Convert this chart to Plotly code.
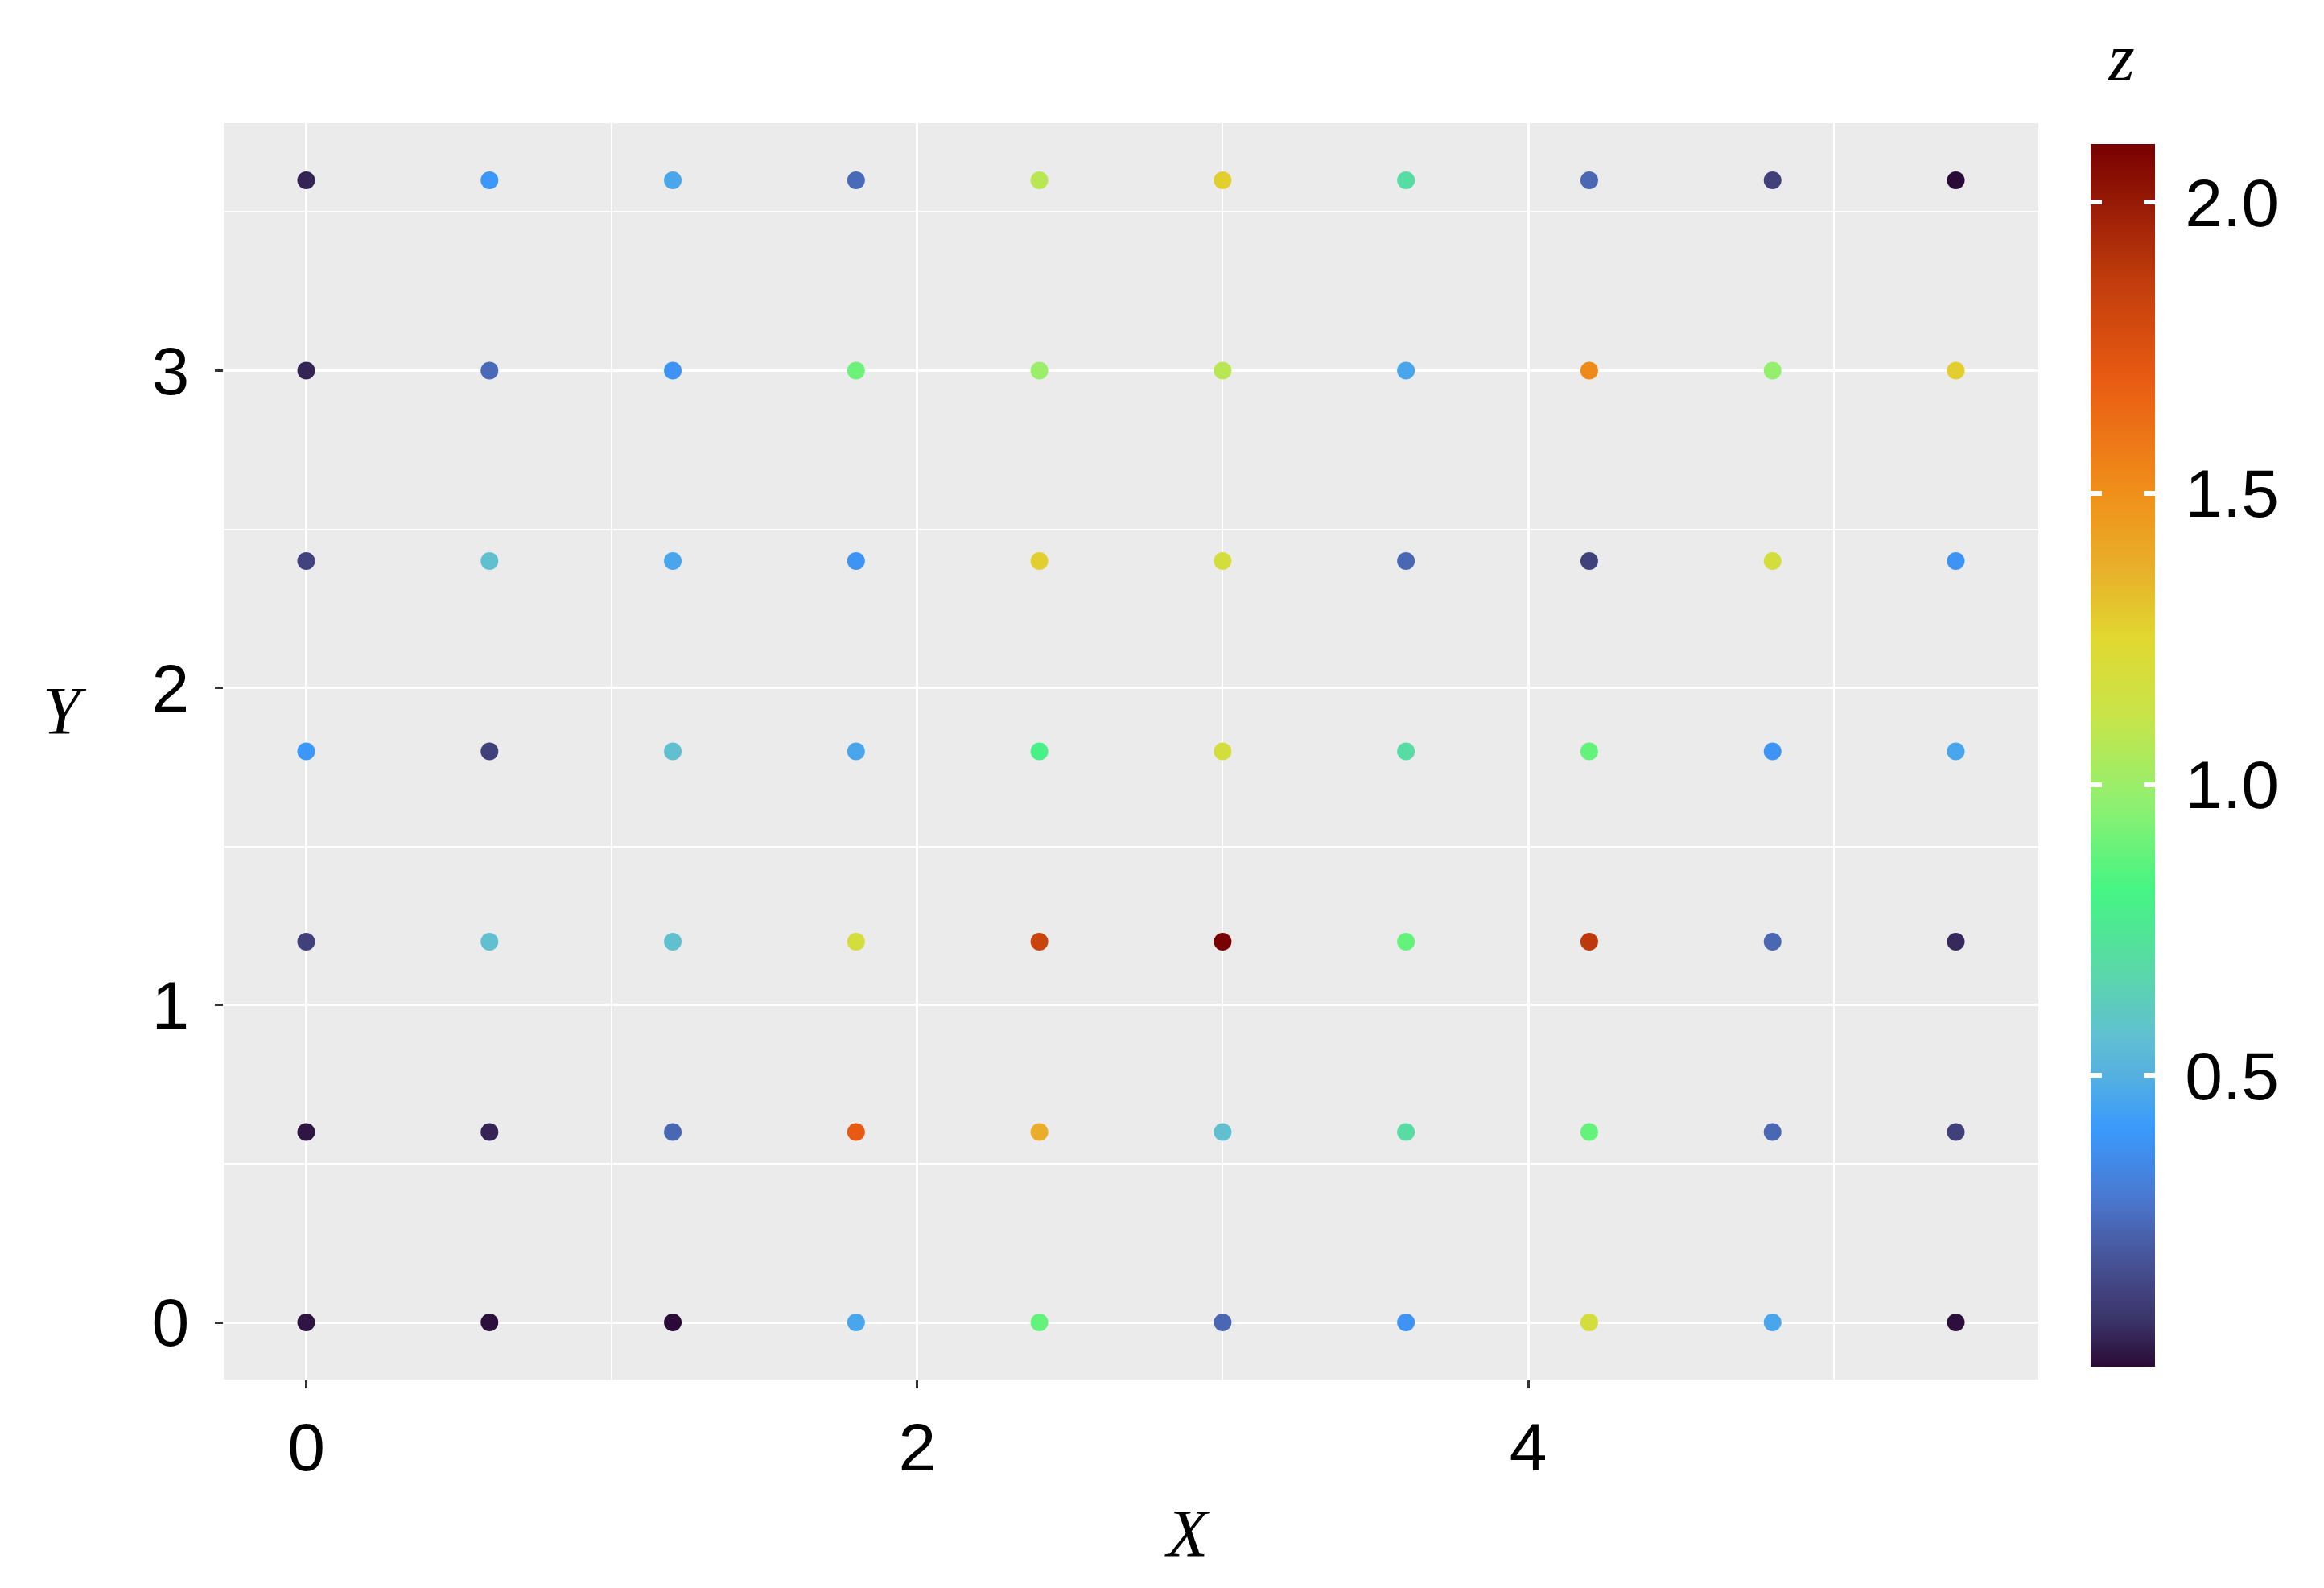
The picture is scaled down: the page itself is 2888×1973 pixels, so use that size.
import plotly.graph_objects as go

# grid coordinates
x_levels = [0.0, 0.6, 1.2, 1.8, 2.4, 3.0, 3.6, 4.2, 4.8, 5.4]
y_levels = [0.0, 0.6, 1.2, 1.8, 2.4, 3.0, 3.6]

# z values per row (y from 0 to 3.6), columns follow x_levels
z_y00 = [0.02, 0.01, 0.00, 0.46, 0.88, 0.24, 0.39, 1.18, 0.46, 0.01]
z_y06 = [0.02, 0.05, 0.24, 1.70, 1.38, 0.57, 0.70, 0.88, 0.24, 0.12]
z_y12 = [0.12, 0.57, 0.57, 1.18, 1.83, 2.10, 0.88, 1.88, 0.24, 0.06]
z_y18 = [0.40, 0.12, 0.57, 0.46, 0.80, 1.18, 0.70, 0.88, 0.39, 0.46]
z_y24 = [0.13, 0.57, 0.46, 0.39, 1.28, 1.18, 0.24, 0.12, 1.18, 0.39]
z_y30 = [0.05, 0.25, 0.39, 0.90, 1.00, 1.08, 0.46, 1.52, 0.98, 1.28]
z_y36 = [0.05, 0.40, 0.46, 0.25, 1.08, 1.28, 0.70, 0.24, 0.12, 0.00]

z_rows = [z_y00, z_y06, z_y12, z_y18, z_y24, z_y30, z_y36]

x_ticks = [0, 2, 4]
y_ticks = [0, 1, 2, 3]
x_minor = [1, 3, 5]
y_minor = [0.5, 1.5, 2.5, 3.5]
cbar_ticks = [0.5, 1.0, 1.5, 2.0]
cbar_ticklabels = ["0.5", "1.0", "1.5", "2.0"]

z_min, z_max = 0.0, 2.1

colorscale = [
    [0.000, "#2a0a36"],
    [0.038, "#3a3468"],
    [0.071, "#444888"],
    [0.105, "#4860a8"],
    [0.138, "#4a78d0"],
    [0.195, "#3a9afc"],
    [0.238, "#55b0e0"],
    [0.271, "#60c0d0"],
    [0.324, "#5ad8a8"],
    [0.390, "#45f583"],
    [0.462, "#90f070"],
    [0.533, "#c8e448"],
    [0.595, "#e0d830"],
    [0.652, "#e8b02a"],
    [0.714, "#f0901a"],
    [0.810, "#e85a12"],
    [0.890, "#c03c0c"],
    [1.000, "#780000"],
]

xs, ys, zs = [], [], []
for yv, row in zip(y_levels, z_rows):
    for xv, zv in zip(x_levels, row):
        xs.append(xv)
        ys.append(yv)
        zs.append(zv)

# page body has an 8px margin; figure coordinates = screen coordinates - OFF
OFF = 8
W, H = 2888, 1973
L, R, T, B = 270, 363, 145, 267
PW, PH = W - L - R, H - T - B

bar_left = 2598
bar_thick = 80
bar_len = 1519
bar_yc = 938.5
mark = 14

tick_font = dict(family="Liberation Sans, Arial, sans-serif", size=84, color="#000000")
title_font = dict(family="Liberation Serif, Times New Roman, serif", size=84, color="#000000")


def px_x(px):
    return (px - OFF - L) / PW


def px_y(py):
    return ((H - B) - (py - OFF)) / PH


def cbar(x_px, thick, **kw):
    d = dict(
        x=px_x(x_px), xanchor="left", xpad=0,
        y=px_y(bar_yc), yanchor="middle", ypad=0,
        lenmode="pixels", len=bar_len,
        thickness=thick, thicknessmode="pixels",
        outlinewidth=0,
    )
    d.update(kw)
    return d


fig = go.Figure()

# main points with labelled colour bar
fig.add_trace(go.Scatter(
    x=xs, y=ys, mode="markers",
    marker=dict(
        color=zs, colorscale=colorscale, cmin=z_min, cmax=z_max, size=22,
        line=dict(width=0), showscale=True,
        colorbar=cbar(bar_left, bar_thick,
                      tickvals=cbar_ticks, ticktext=cbar_ticklabels,
                      ticks="outside", ticklen=21, tickcolor="rgba(0,0,0,0)",
                      tickfont=tick_font),
    ),
    showlegend=False,
    hovertemplate="X=%{x}<br>Y=%{y}<br>z=%{marker.color}<extra></extra>",
))
# white tick marks across the bar
fig.add_trace(go.Scatter(
    x=xs, y=ys, mode="markers", hoverinfo="skip",
    marker=dict(
        color=zs, colorscale=colorscale, cmin=z_min, cmax=z_max, size=22, opacity=0,
        showscale=True,
        colorbar=cbar(bar_left, bar_thick, tickvals=cbar_ticks, ticks="inside",
                      ticklen=bar_thick, tickwidth=6, tickcolor="#ffffff",
                      showticklabels=False),
    ),
    showlegend=False,
))
# narrower bar on top so that only the edge marks remain
fig.add_trace(go.Scatter(
    x=xs, y=ys, mode="markers", hoverinfo="skip",
    marker=dict(
        color=zs, colorscale=colorscale, cmin=z_min, cmax=z_max, size=22, opacity=0,
        showscale=True,
        colorbar=cbar(bar_left + mark, bar_thick - 2 * mark, ticks="",
                      showticklabels=False),
    ),
    showlegend=False,
))

axis_common = dict(
    showgrid=True, gridcolor="#ffffff", gridwidth=2.6,
    zeroline=False, showline=False,
    ticks="outside", ticklen=10, tickwidth=2.5, tickcolor="#333333",
    tickfont=tick_font,
)

fig.update_xaxes(
    **axis_common,
    range=[-0.27, 5.67], tickvals=x_ticks,
    minor=dict(tickvals=x_minor, showgrid=True, gridcolor="#ffffff", gridwidth=1.8, ticks=""),
    ticklabelstandoff=1,
)
fig.update_yaxes(
    **axis_common,
    range=[-0.18, 3.78], tickvals=y_ticks,
    minor=dict(tickvals=y_minor, showgrid=True, gridcolor="#ffffff", gridwidth=1.8, ticks=""),
    ticklabelstandoff=15,
)

fig.update_layout(
    width=W, height=H,
    margin=dict(l=L, r=R, t=T, b=B, autoexpand=False),
    paper_bgcolor="#ffffff", plot_bgcolor="#EBEBEB",
    annotations=[
        dict(text="<i>X</i>", xref="paper", yref="paper",
             x=px_x(1476), y=px_y(1905),
             xanchor="center", yanchor="middle", showarrow=False, font=title_font),
        dict(text="<i>Y</i>", xref="paper", yref="paper",
             x=px_x(80), y=px_y(883),
             xanchor="center", yanchor="middle", showarrow=False, font=title_font),
        dict(text="<i>z</i>", xref="paper", yref="paper",
             x=px_x(2636), y=px_y(72),
             xanchor="center", yanchor="middle", showarrow=False, font=title_font),
    ],
)

fig.write_html("out.html")
